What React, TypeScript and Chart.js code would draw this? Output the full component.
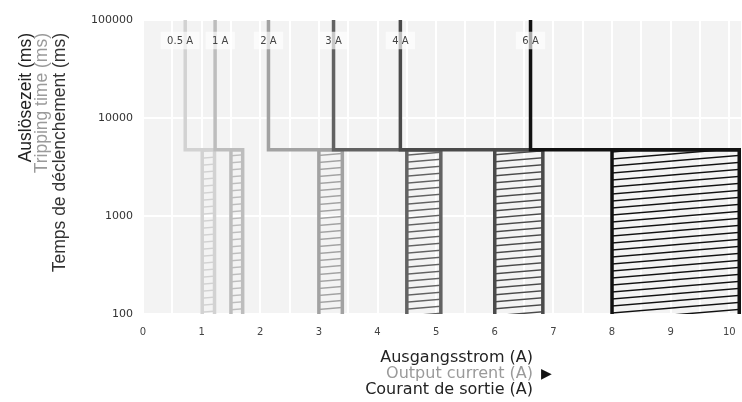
import { useEffect, useRef } from 'react';
import { Chart, registerables } from 'chart.js';

Chart.register(...registerables);

// ---- data ----
const ratings = ['0.5 A', '1 A', '2 A', '3 A', '4 A', '6 A'];
// current where the "no trip" line sits above the knee (A)
const holdCurrent = [0.72, 1.23, 2.14, 3.25, 4.39, 6.61];
// trip zone left / right current (A)
const tripStart = [1.01, 1.5, 3.0, 4.5, 6.0, 8.0];
const tripEnd = [1.22, 1.7, 3.4, 5.08, 6.82, 10.17];
// knee time (ms)
const kneeTime = 4750;
const timeMin = 100;
const timeMax = 100000;
const currentMax = 10.2;
const xTickValues = [0, 0.5, 1, 1.5, 2, 2.5, 3, 3.5, 4, 4.5, 5, 5.5, 6, 6.5, 7, 7.5, 8, 8.5, 9, 9.5, 10];
const yTickValues = [100, 1000, 10000, 100000];

const yTitle = ['Auslösezeit (ms)', 'Tripping time (ms)', 'Temps de déclenchement (ms)'];
const xTitle = ['Ausgangsstrom (A)', 'Output current (A)', 'Courant de sortie (A)'];

// ---- styles ----
const colors = ['#d2d2d2', '#bdbdbd', '#a2a2a2', '#626262', '#4a4a4a', '#111111'];
const titleColors = ['#222222', '#9a9a9a', '#333333'];

function makeHatch(color: string): CanvasPattern | string {
  const c = document.createElement('canvas');
  const W = 84;
  const H = 7;
  c.width = W;
  c.height = H;
  const g = c.getContext('2d');
  if (!g) return color;
  g.strokeStyle = color;
  g.lineWidth = 1.4;
  for (const k of [-1, 0, 1]) {
    g.beginPath();
    g.moveTo(0, H + k * H);
    g.lineTo(W, k * H);
    g.stroke();
  }
  return g.createPattern(c, 'repeat') || color;
}

const bgPlugin = {
  id: 'plotBg',
  beforeDraw(chart: any) {
    const { ctx, chartArea } = chart;
    ctx.save();
    ctx.fillStyle = '#f3f3f3';
    ctx.fillRect(chartArea.left, chartArea.top, chartArea.right - chartArea.left, chartArea.bottom - chartArea.top);
    ctx.restore();
  },
};

const tagPlugin = {
  id: 'tags',
  afterDatasetsDraw(chart: any) {
    const { ctx, chartArea, scales } = chart;
    ctx.save();
    ctx.font = '10px "DejaVu Sans"';
    const boxes = ratings.map((t, i) => ({
      t,
      w: ctx.measureText(t).width + 13,
      cx: scales.x.getPixelForValue(holdCurrent[i]),
    }));
    for (let pass = 0; pass < 3; pass++) {
      for (let i = 0; i < boxes.length - 1; i++) {
        const a = boxes[i];
        const b = boxes[i + 1];
        const gap = b.cx - b.w / 2 - (a.cx + a.w / 2);
        if (gap < 6) {
          const s = (6 - gap) / 2;
          a.cx -= s;
          b.cx += s;
        }
      }
    }
    const cy = chartArea.top + 20.5;
    const h = 17.5;
    boxes.forEach((b) => {
      ctx.fillStyle = 'rgba(255,255,255,0.65)';
      ctx.fillRect(b.cx - b.w / 2, cy - h / 2, b.w, h);
      ctx.fillStyle = '#444';
      ctx.textAlign = 'center';
      ctx.textBaseline = 'middle';
      ctx.fillText(b.t, b.cx, cy + 0.5);
    });
    ctx.restore();
  },
};

const titlePlugin = {
  id: 'axisTitles',
  afterDraw(chart: any) {
    const { ctx, chartArea } = chart;
    ctx.save();
    // y title (rotated, end-aligned at top)
    ctx.font = '17.5px "Liberation Sans"';
    ctx.textAlign = 'right';
    ctx.textBaseline = 'middle';
    const yx = [26, 42.5, 60];
    yTitle.forEach((t, i) => {
      ctx.save();
      ctx.translate(yx[i], chartArea.top + 13);
      ctx.rotate(-Math.PI / 2);
      ctx.fillStyle = titleColors[i];
      ctx.fillText(t, 0, 0);
      ctx.restore();
    });
    // x title (right-aligned block)
    ctx.font = '16px "DejaVu Sans"';
    ctx.textAlign = 'right';
    const rx = 533;
    const ys = [chartArea.bottom + 44, chartArea.bottom + 60, chartArea.bottom + 75.5];
    xTitle.forEach((t, i) => {
      ctx.fillStyle = i === 1 ? '#9a9a9a' : '#222222';
      ctx.fillText(t, rx, ys[i]);
    });
    ctx.textAlign = 'left';
    ctx.fillStyle = '#111';
    ctx.font = '14px "DejaVu Sans"';
    ctx.fillText('▶', rx + 8, ys[1] + 0.5);
    ctx.restore();
  },
};

export default function App() {
  const ref = useRef<HTMLCanvasElement | null>(null);

  useEffect(() => {
    document.body.style.margin = '0';
    const canvas = ref.current;
    if (!canvas) return;
    const n = ratings.length;
    const datasets: any[] = [];
    ratings.forEach((name, i) => {
      datasets.push({
        label: name + ' trip zone',
        data: [
          { x: tripStart[i], y: timeMin },
          { x: tripStart[i], y: kneeTime },
          { x: tripEnd[i], y: kneeTime },
        ],
        borderColor: colors[i],
        borderWidth: 3.5,
        borderJoinStyle: 'miter',
        backgroundColor: makeHatch(colors[i]),
        fill: 'start',
        pointRadius: 0,
        pointHoverRadius: 0,
        tension: 0,
        order: 2 * (n - i),
      });
      datasets.push({
        label: name,
        data: [
          { x: holdCurrent[i], y: timeMax },
          { x: holdCurrent[i], y: kneeTime },
          { x: tripEnd[i], y: kneeTime },
          { x: tripEnd[i], y: timeMin },
        ],
        borderColor: colors[i],
        borderWidth: 3.5,
        borderJoinStyle: 'miter',
        fill: false,
        pointRadius: 0,
        pointHoverRadius: 0,
        tension: 0,
        order: 2 * (n - i) - 1,
      });
    });

    const chart = new Chart(canvas, {
      type: 'line',
      data: { datasets },
      options: {
        animation: false,
        responsive: false,
        events: [],
        layout: { padding: { top: 20, right: 1, left: 0, bottom: 0 } },
        plugins: {
          legend: { display: false },
          tooltip: { enabled: false },
        },
        scales: {
          x: {
            type: 'linear',
            min: 0,
            max: currentMax,
            afterBuildTicks: (scale: any) => {
              scale.ticks = xTickValues.map((v) => ({ value: v }));
            },
            afterFit: (scale: any) => {
              scale.height = 88;
              scale.paddingRight = 0;
              scale.paddingLeft = 0;
            },
            ticks: {
              autoSkip: false,
              maxRotation: 0,
              padding: 12,
              color: '#444',
              font: { family: 'DejaVu Sans', size: 10 },
              callback: (v: any) => (Number.isInteger(Number(v)) ? String(v) : ''),
            },
            grid: { color: '#ffffff', lineWidth: 2, drawTicks: false },
            border: { display: false },
          },
          y: {
            type: 'logarithmic',
            min: timeMin,
            max: timeMax,
            afterBuildTicks: (scale: any) => {
              scale.ticks = yTickValues.map((v) => ({ value: v }));
            },
            afterFit: (scale: any) => {
              scale.width = 143;
              scale.paddingTop = 0;
              scale.paddingBottom = 0;
            },
            ticks: {
              autoSkip: false,
              padding: 10,
              color: '#333',
              font: { family: 'DejaVu Sans', size: 11 },
              callback: (v: any) => String(v),
            },
            grid: { color: '#ffffff', lineWidth: 2, drawTicks: false },
            border: { display: false },
          },
        },
      } as any,
      plugins: [bgPlugin, tagPlugin, titlePlugin],
    });
    return () => chart.destroy();
  }, []);

  return (
    <div style={{ width: 742, height: 402 }}>
      <canvas ref={ref} width={742} height={402} style={{ display: 'block' }} />
    </div>
  );
}
